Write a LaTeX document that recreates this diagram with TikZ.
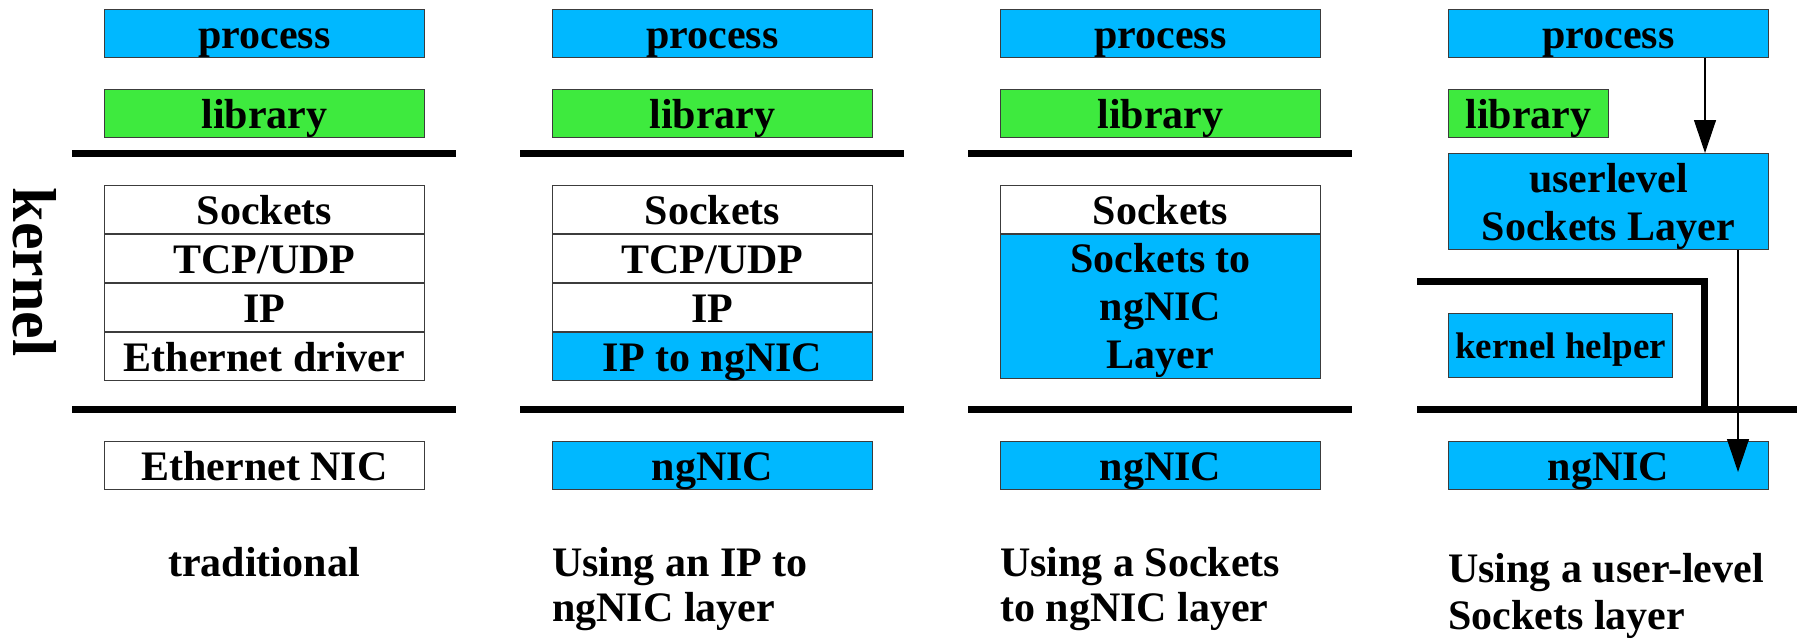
\documentclass[tikz,border=0pt]{standalone}
\usepackage{fontspec}
\setmainfont{Liberation Serif}
\usetikzlibrary{arrows.meta,calc}
\definecolor{layerblue}{RGB}{0,184,255}
\definecolor{libgreen}{RGB}{62,234,62}
\definecolor{edgegray}{RGB}{60,60,60}
\newcommand{\boxfont}{\fontsize{42}{48}\selectfont\bfseries}
\newcommand{\capfont}{\fontsize{42}{45}\selectfont\bfseries}
\tikzset{
  layer/.style={draw=edgegray, line width=1pt, inner sep=0pt, anchor=north west,
    minimum width=320pt, minimum height=48pt, text height=39pt, text depth=9pt,
    font=\boxfont},
  plain/.style={layer, fill=white},
  netlayer/.style={layer, fill=layerblue},
  liblayer/.style={layer, fill=libgreen},
  multitext/.style={font=\boxfont, inner sep=0pt, align=center},
  bar/.style={line width=7pt},
  % two-line captions are anchored on the baseline of their last line
  caption/.style={font=\capfont, inner sep=0pt, align=left, anchor=base west},
  flow/.style={line width=1.2pt, -{Triangle[width=22pt,length=33pt]}},
}
\begin{document}
\begin{tikzpicture}[x=1pt,y=-1pt]
\useasboundingbox (0,0) rectangle (1797,638);

% side label
\node[rotate=-90, anchor=base, inner sep=0pt,
      font=\fontsize{62}{62}\selectfont\bfseries] (kern) at (13,272) {kernel};

% ---- traditional stack
\node[netlayer] (p1) at (104,9) {process};
\node[liblayer] (l1) at (104,89) {library};
\draw[bar] (72,153) -- (456,153);
\node[plain] (s1) at (104,185) {Sockets};
\node[plain] (t1) at (s1.south west) {TCP/UDP};
\node[plain] (i1) at (t1.south west) {IP};
\node[plain] (e1) at (i1.south west) {Ethernet driver};
\draw[bar] (72,409) -- (456,409);
\node[plain] (n1) at (104,441) {Ethernet NIC};
\node[caption, anchor=base] (c1) at (264,576) {traditional};

% ---- IP to ngNIC layer
\node[netlayer] (p2) at (552,9) {process};
\node[liblayer] (l2) at (552,89) {library};
\draw[bar] (520,153) -- (904,153);
\node[plain] (s2) at (552,185) {Sockets};
\node[plain] (t2) at (s2.south west) {TCP/UDP};
\node[plain] (i2) at (t2.south west) {IP};
\node[netlayer] (g2) at (i2.south west) {IP to ngNIC};
\draw[bar] (520,409) -- (904,409);
\node[netlayer] (n2) at (552,441) {ngNIC};
\node[caption] (c2) at (552,621) {Using an IP to\\ngNIC layer};

% ---- Sockets to ngNIC layer
\node[netlayer] (p3) at (1000,9) {process};
\node[liblayer] (l3) at (1000,89) {library};
\draw[bar] (968,153) -- (1352,153);
\node[plain] (s3) at (1000,185) {Sockets};
\node[netlayer, minimum height=144pt] (g3) at (s3.south west) {};
\node[multitext] (g3t) at ($(g3.center)+(0,4)$) {Sockets to\\ngNIC\\Layer};
\draw[bar] (968,409) -- (1352,409);
\node[netlayer] (n3) at (1000,441) {ngNIC};
\node[caption] (c3) at (1000,621) {Using a Sockets\\to ngNIC layer};

% ---- user-level Sockets layer
\node[netlayer] (p4) at (1448,9) {process};
\node[liblayer, minimum width=160pt] (l4) at (1448,89) {library};
\node[netlayer, minimum height=96pt] (u4) at (1448,153) {};
\node[multitext] (u4t) at ($(u4.center)+(0,5)$) {userlevel\\Sockets Layer};
\draw[bar, line join=miter] (1417,281) -- (1704.5,281) -- (1704.5,409);
\draw[bar] (1417,409) -- (1797,409);
\node[netlayer, minimum width=224pt, minimum height=64pt, text height=45pt,
      text depth=19pt, font=\fontsize{37}{44}\selectfont\bfseries]
      (h4) at (1448,313) {kernel helper};
\node[netlayer] (n4) at (1448,441) {ngNIC};
\node[caption, font=\fontsize{42}{47}\selectfont\bfseries] (c4) at (1448,629)
      {Using a user-level\\Sockets layer};

% data path through the user-level layer
\draw[flow] ($(p4.south east)+(-64,0)$) -- ($(u4.north east)+(-64,0)$);
\draw[flow] ($(u4.south east)+(-31,0)$) -- ($(n4.north east)+(-31,31)$);
\end{tikzpicture}
\end{document}
